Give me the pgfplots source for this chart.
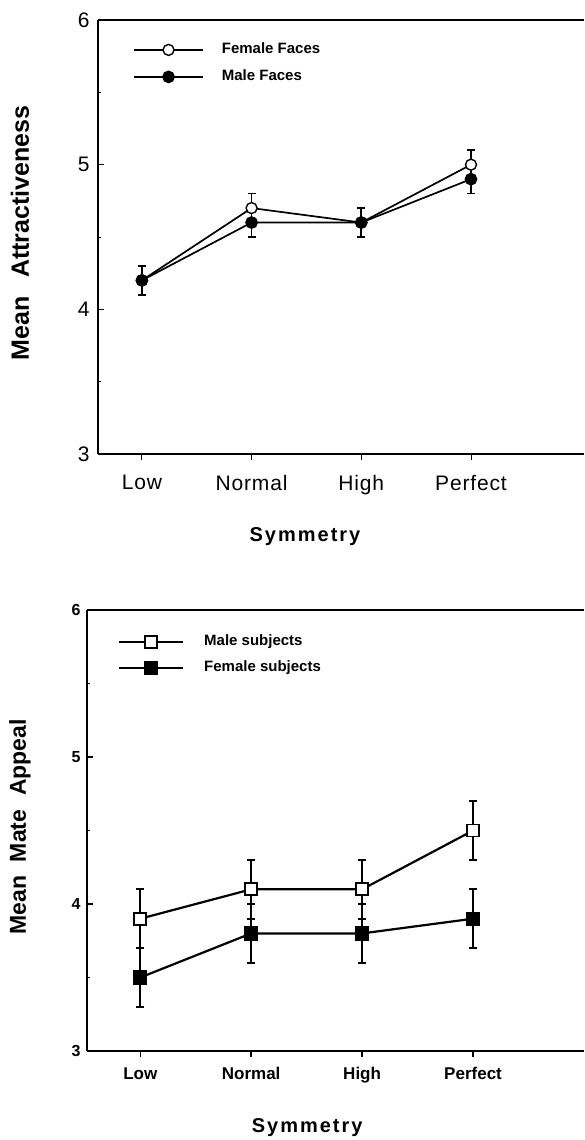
\documentclass[border=0pt]{standalone}
\usepackage{fontspec}
\setmainfont{Liberation Sans}
\usepackage{pgfplots}
\pgfplotsset{compat=1.18}
\begin{document}
\begin{tikzpicture}
\useasboundingbox (0,0) rectangle (584pt,-1140pt);
% ---------------- top panel ----------------
\begin{axis}[
  at={(98pt,-454pt)}, anchor=south west,
  scale only axis, width=486pt, height=434pt,
  xmin=-0.40, xmax=4.03, ymin=3, ymax=6,
  axis x line*=box, axis y line*=left,
  xtick pos=left,
  xtick={0,1,2,3}, xticklabels={Low,Normal,High,Perfect},
  ytick={3,4,5,6}, minor ytick={3.5,4.5,5.5},
  tick align=inside,
  major tick length=6pt, minor tick length=3pt,
  x tick style={yshift=-6pt, line width=1pt, black},
  y tick style={line width=1pt, black},
  axis line style={line width=1.8pt, black},
  /pgf/number format/assume math mode=true,
  xticklabel style={font=\fontsize{21}{25}\selectfont\addfontfeatures{LetterSpace=4}, yshift=-18pt},
  yticklabel style={font=\fontsize{21}{25}\selectfont, xshift=-5pt},
  xlabel={\fontsize{20}{24}\selectfont\bfseries\addfontfeatures{LetterSpace=10}Symmetry},
  xlabel style={at={(axis description cs:0.426,-0.191)}, anchor=center},
  ylabel={\fontsize{25}{29}\selectfont\bfseries Mean\hspace{0.75em}Attractiveness},
  ylabel style={at={(axis description cs:-0.1605,0.509)}, anchor=center, rotate=0},
  clip=false,
  legend image code/.code={\draw[mark repeat=2,mark phase=2,#1] plot coordinates {(0pt,0pt) (34.5pt,0pt) (69pt,0pt)};},
  legend style={draw=none, fill=none, at={(axis description cs:0.072,0.900)}, anchor=west,
    inner sep=0pt, row sep=13pt, font=\fontsize{15}{18}\selectfont\bfseries,
    nodes={inner sep=0pt, text height=11pt, text depth=3pt, anchor=west},
    /tikz/every odd column/.append style={column sep=18pt}},
  legend cell align=left,
]
\addplot[black, line width=1.7pt, mark=*, mark size=5.5pt, mark options={fill=white, line width=1.4pt},
  error bars/.cd, y dir=both, y explicit,
  error bar style={line width=1.7pt, black},
  error mark options={rotate=90, mark size=4pt, line width=1.7pt, black}]
  coordinates {(0,4.2) +- (0,0.1) (1,4.7) +- (0,0.1) (2,4.6) +- (0,0.1) (3,5.0) +- (0,0.1)};
\addlegendentry{Female Faces}
\addplot[black, line width=1.7pt, mark=*, mark size=5.5pt, mark options={fill=black},
  error bars/.cd, y dir=both, y explicit,
  error bar style={line width=1.7pt, black},
  error mark options={rotate=90, mark size=4pt, line width=1.7pt, black}]
  coordinates {(0,4.2) +- (0,0.1) (1,4.6) +- (0,0.1) (2,4.6) +- (0,0.1) (3,4.9) +- (0,0.1)};
\addlegendentry{Male Faces}
\end{axis}
% ---------------- bottom panel ----------------
\begin{axis}[
  at={(87pt,-1051pt)}, anchor=south west,
  scale only axis, width=497pt, height=441pt,
  xmin=-0.48, xmax=4.0, ymin=3, ymax=6,
  axis x line*=box, axis y line*=left,
  xtick pos=left,
  xtick={0,1,2,3}, xticklabels={Low,Normal,High,Perfect},
  ytick={3,4,5,6}, minor ytick={3.5,4.5,5.5},
  tick align=inside,
  major tick length=6pt, minor tick length=3pt,
  x tick style={yshift=-6pt, line width=1.5pt, black},
  y tick style={line width=1.5pt, black},
  axis line style={line width=2.4pt, black},
  /pgf/number format/assume math mode=true,
  xticklabel style={font=\fontsize{17}{20}\selectfont\bfseries, yshift=-13pt},
  yticklabel style={font=\fontsize{16}{19}\selectfont\bfseries, xshift=-3pt},
  xlabel={\fontsize{20}{24}\selectfont\bfseries\addfontfeatures{LetterSpace=10}Symmetry},
  xlabel style={at={(axis description cs:0.443,-0.1746)}, anchor=center},
  ylabel={\fontsize{23}{27}\selectfont\bfseries Mean\hspace{0.6em}Mate\hspace{0.6em}Appeal},
  ylabel style={at={(axis description cs:-0.1348,0.508)}, anchor=center, rotate=0},
  clip=false,
  legend image code/.code={\draw[mark repeat=2,mark phase=2,#1] plot coordinates {(0pt,0pt) (32pt,0pt) (64pt,0pt)};},
  legend style={draw=none, fill=none, at={(axis description cs:0.062,0.898)}, anchor=west,
    inner sep=0pt, row sep=12pt, font=\fontsize{15}{18}\selectfont\bfseries,
    nodes={inner sep=0pt, text height=11pt, text depth=3pt, anchor=west},
    /tikz/every odd column/.append style={column sep=20pt}},
  legend cell align=left,
]
\addplot[black, line width=2.2pt, mark=square*, mark size=6pt, mark options={fill=white, line width=1.9pt},
  error bars/.cd, y dir=both, y explicit,
  error bar style={line width=2.2pt, black},
  error mark options={rotate=90, mark size=4pt, line width=2.2pt, black}]
  coordinates {(0,3.9) +- (0,0.2) (1,4.1) +- (0,0.2) (2,4.1) +- (0,0.2) (3,4.5) +- (0,0.2)};
\addlegendentry{Male subjects}
\addplot[black, line width=2.2pt, mark=square*, mark size=6pt, mark options={fill=black},
  error bars/.cd, y dir=both, y explicit,
  error bar style={line width=2.2pt, black},
  error mark options={rotate=90, mark size=4pt, line width=2.2pt, black}]
  coordinates {(0,3.5) +- (0,0.2) (1,3.8) +- (0,0.2) (2,3.8) +- (0,0.2) (3,3.9) +- (0,0.2)};
\addlegendentry{Female subjects}
\end{axis}
\end{tikzpicture}
\end{document}
